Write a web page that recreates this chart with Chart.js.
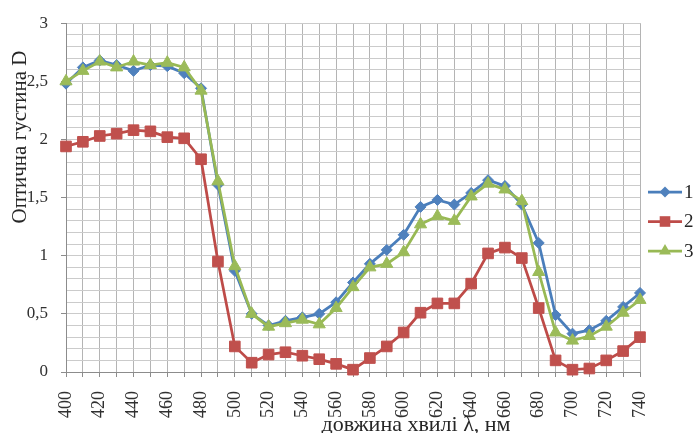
<!DOCTYPE html>
<html lang="uk">
<head>
<meta charset="utf-8">
<title>Оптична густина</title>
<script src="https://cdn.jsdelivr.net/npm/chart.js@4.4.1/dist/chart.umd.min.js"></script>
<style>
  html, body { margin: 0; padding: 0; background: #ffffff; }
  #wrap { position: relative; width: 694px; height: 433px; }
</style>
</head>
<body>
<div id="wrap"><canvas id="chart"></canvas></div>
<script>
// Wavelength, nm
const wavelengths = [400, 410, 420, 430, 440, 450, 460, 470, 480, 490,
                     500, 510, 520, 530, 540, 550, 560, 570, 580, 590,
                     600, 610, 620, 630, 640, 650, 660, 670, 680, 690,
                     700, 710, 720, 730, 740];

// Optical density D for each sample
const series1 = [2.48, 2.62, 2.68, 2.64, 2.59, 2.64, 2.63, 2.57, 2.44, 1.61,
                 0.87, 0.50, 0.40, 0.44, 0.47, 0.50, 0.60, 0.77, 0.93, 1.05,
                 1.18, 1.42, 1.48, 1.44, 1.54, 1.65, 1.60, 1.44, 1.11, 0.49,
                 0.33, 0.36, 0.44, 0.56, 0.68];
const series2 = [1.94, 1.98, 2.03, 2.05, 2.08, 2.07, 2.02, 2.01, 1.83, 0.95,
                 0.22, 0.08, 0.15, 0.17, 0.14, 0.11, 0.07, 0.02, 0.12, 0.22,
                 0.34, 0.51, 0.59, 0.59, 0.76, 1.02, 1.07, 0.98, 0.55, 0.10,
                 0.02, 0.03, 0.10, 0.18, 0.30];
const series3 = [2.50, 2.59, 2.67, 2.62, 2.67, 2.64, 2.66, 2.62, 2.42, 1.64,
                 0.91, 0.50, 0.39, 0.42, 0.45, 0.41, 0.55, 0.73, 0.90, 0.93,
                 1.03, 1.27, 1.34, 1.30, 1.51, 1.62, 1.57, 1.47, 0.86, 0.34,
                 0.27, 0.31, 0.39, 0.51, 0.62];

const seriesNames = ['1', '2', '3'];
const yTitle = 'Оптична густина D';
const xTitle = 'довжина хвилі λ, нм';

const FONT = '"Liberation Serif", "Times New Roman", serif';

function points(values) {
  return values.map((v, i) => ({ x: wavelengths[i], y: v }));
}

const styles = [
  { line: '#4a7ebb', fill: '#4f81bd', shape: 'rectRot', r: 5.5, order: 3 },
  { line: '#be4b48', fill: '#c0504d', shape: 'rect', r: 7.5, order: 2 },
  { line: '#98b954', fill: '#9bbb59', shape: 'triangle', r: 7, order: 1 }
];

const datasets = [series1, series2, series3].map((vals, i) => ({
  label: seriesNames[i],
  data: points(vals),
  borderColor: styles[i].line,
  backgroundColor: styles[i].fill,
  borderWidth: 2.75,
  pointStyle: styles[i].shape,
  pointRadius: styles[i].r,
  pointHoverRadius: styles[i].r,
  pointBackgroundColor: styles[i].fill,
  pointBorderColor: styles[i].fill,
  pointBorderWidth: 1,
  tension: 0,
  clip: false,
  order: styles[i].order
}));

// Marker drawing for the legend entries
function drawMarker(ctx, shape, x, y, r) {
  ctx.beginPath();
  if (shape === 'rectRot') {
    ctx.moveTo(x, y - r); ctx.lineTo(x + r, y); ctx.lineTo(x, y + r); ctx.lineTo(x - r, y);
  } else if (shape === 'rect') {
    const s = r * Math.SQRT1_2;
    ctx.rect(x - s, y - s, 2 * s, 2 * s);
  } else {
    const h = r * 1.5, w = r * Math.sqrt(3) / 2;
    ctx.moveTo(x, y - r); ctx.lineTo(x + w, y + h - r); ctx.lineTo(x - w, y + h - r);
  }
  ctx.closePath();
  ctx.fill();
}

const decorations = {
  id: 'decorations',
  afterDraw(chart) {
    const ctx = chart.ctx;
    ctx.save();
    ctx.fillStyle = '#262626';

    // Y axis title
    ctx.save();
    ctx.translate(20, 137);
    ctx.rotate(-Math.PI / 2);
    ctx.font = '21px ' + FONT;
    ctx.textAlign = 'center';
    ctx.textBaseline = 'middle';
    ctx.fillText(yTitle, 0, 0);
    ctx.restore();

    // X axis title
    ctx.font = '22px ' + FONT;
    ctx.textAlign = 'center';
    ctx.textBaseline = 'alphabetic';
    ctx.fillText(xTitle, 416, 431);

    // Legend
    chart.data.datasets.forEach((ds, i) => {
      const st = styles[i];
      const y = 192 + i * 29.5;
      ctx.strokeStyle = st.line;
      ctx.lineWidth = 2.75;
      ctx.beginPath();
      ctx.moveTo(648, y);
      ctx.lineTo(682, y);
      ctx.stroke();
      ctx.fillStyle = st.fill;
      drawMarker(ctx, st.shape, 665, y, st.r);
      ctx.fillStyle = '#262626';
      ctx.font = '19px ' + FONT;
      ctx.textAlign = 'left';
      ctx.textBaseline = 'middle';
      ctx.fillText(ds.label, 684, y + 1);
    });
    ctx.restore();
  }
};

function isMajor(v) {
  return Math.round(v * 10) % 5 === 0;
}

new Chart(document.getElementById('chart'), {
  type: 'line',
  data: { datasets },
  plugins: [decorations],
  options: {
    responsive: true,
    maintainAspectRatio: false,
    animation: false,
    layout: { padding: { left: 0, top: 20, right: 54, bottom: 0 } },
    plugins: {
      legend: { display: false },
      tooltip: { enabled: false }
    },
    scales: {
      x: {
        type: 'linear',
        min: 400,
        max: 740,
        afterFit(scale) { scale.height = 61; },
        ticks: {
          stepSize: 10,
          autoSkip: false,
          minRotation: 90,
          maxRotation: 90,
          padding: 14,
          color: '#303030',
          font: { family: FONT, size: 18 },
          callback: (v) => (v % 20 === 0 ? String(v) : '')
        },
        grid: {
          color: '#b4b4b4',
          lineWidth: 1,
          tickLength: 5,
          tickColor: '#8c8c8c'
        },
        border: { display: true, color: '#8c8c8c', width: 1 }
      },
      y: {
        min: 0,
        max: 3,
        afterFit(scale) { scale.width = 66; },
        ticks: {
          stepSize: 0.1,
          autoSkip: false,
          padding: 13,
          color: '#303030',
          font: { family: FONT, size: 17 },
          callback: (v) => (isMajor(v) ? String(Math.round(v * 10) / 10).replace('.', ',') : '')
        },
        grid: {
          color: '#cbcbcb',
          lineWidth: 1,
          tickLength: 5,
          tickColor: (c) => (isMajor(c.tick.value) ? '#8c8c8c' : 'rgba(0,0,0,0)')
        },
        border: { display: true, color: '#8c8c8c', width: 1 }
      }
    }
  }
});
</script>
</body>
</html>
